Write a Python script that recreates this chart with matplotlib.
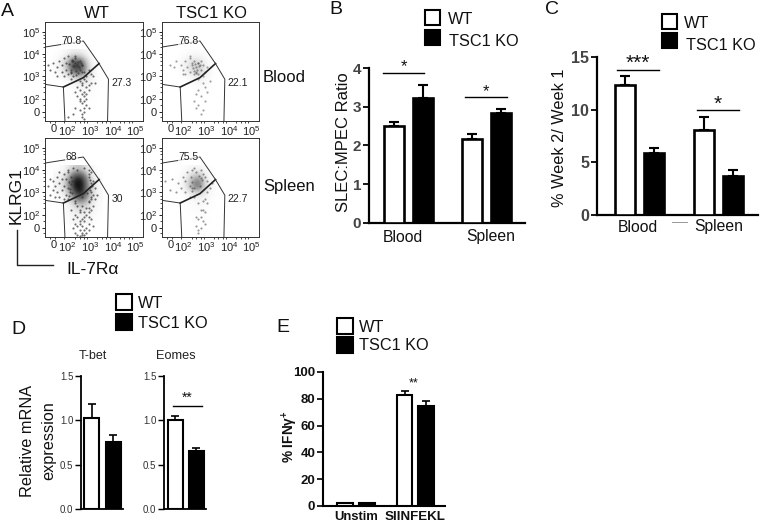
import matplotlib
matplotlib.use("Agg")
import matplotlib.pyplot as plt
from matplotlib.patches import Rectangle

plt.rcParams["font.family"] = ["Liberation Sans", "DejaVu Sans"]
plt.rcParams["mathtext.fontset"] = "custom"
plt.rcParams["mathtext.rm"] = "Liberation Sans"
plt.rcParams["mathtext.bf"] = "Liberation Sans:bold"
plt.rcParams["mathtext.default"] = "regular"

W, H = 760, 522

# bar values
b_labels = ["Blood", "Spleen"]
b_wt = [2.5, 2.17]
b_wt_err = [0.1, 0.13]
b_ko = [3.22, 2.83]
b_ko_err = [0.35, 0.12]

c_labels = ["Blood", "Spleen"]
c_wt = [12.3, 8.1]
c_wt_err = [0.9, 1.2]
c_ko = [5.9, 3.7]
c_ko_err = [0.5, 0.6]

tbet_vals = [1.03, 0.76]
tbet_err = [0.15, 0.08]
eomes_vals = [1.0, 0.65]
eomes_err = [0.05, 0.04]

e_labels = ["Unstim", "SIINFEKL"]
e_wt = [2, 83]
e_wt_err = [0.3, 3]
e_ko = [2, 75]
e_ko_err = [0.3, 3]

# flow gate percentages: upper, lower
pct_labels = [("70.8", "27.3"), ("76.8", "22.1"), ("68", "30"), ("75.5", "22.7")]

# gate outlines, in log10 units
upper_gate_x = [0.96, 2.67, 3.37]
upper_gate_y = [4.31, 4.58, 3.57]
split_x = [3.37, 2.67, 1.78]
split_y = [3.57, 2.94, 2.52]
left_x = [1.78, 0.96]
left_y = [2.52, 2.64]
lower_gate_x = [1.78, 1.85]
lower_gate_y = [2.52, 1.0]
right_gate_x = [3.37, 3.79, 3.75]
right_gate_y = [3.57, 2.87, 1.0]

# flow events, in log10 units, read by eye
blood_wt_x = [1.1, 1.2, 1.3, 1.4, 1.5, 1.5, 1.6, 1.7, 1.7, 1.8, 1.8, 1.9, 1.9, 2.0, 2.0, 2.1, 2.1, 2.2, 2.2, 2.3,
              2.6, 2.7, 2.8, 2.9, 3.0, 3.1, 2.5, 2.6, 2.7, 2.8, 2.9, 3.0, 2.4, 2.5, 2.6, 2.7, 2.8, 2.9, 2.6, 2.7,
              2.8, 2.5, 2.6, 2.7, 2.8, 2.3, 2.5, 2.7, 2.9, 2.6, 2.7, 2.2, 2.4, 2.6, 2.8, 2.5, 2.7, 2.0, 2.3, 3.2,
              2.05, 2.12, 2.18, 2.25, 2.3, 2.35, 2.42, 2.48, 2.55, 2.62, 2.1, 2.2, 2.28, 2.38, 2.45, 2.52, 2.6, 2.15,
              2.33, 2.5]
blood_wt_y = [3.5, 3.3, 3.6, 3.2, 3.4, 3.0, 3.7, 3.2, 3.5, 3.0, 3.8, 3.3, 3.6, 3.1, 3.9, 3.2, 2.9, 3.7, 3.0, 3.9,
              3.5, 3.2, 3.0, 3.3, 3.1, 3.0, 2.8, 2.7, 2.9, 2.8, 2.6, 2.7, 2.5, 2.4, 2.6, 2.3, 2.5, 2.4, 2.2, 2.1,
              2.0, 1.9, 1.8, 1.9, 1.7, 1.6, 1.5, 1.4, 1.6, 1.2, 1.6, 1.3, 2.1, 1.3, 2.2, 2.0, 1.1, 1.2, 2.3, 2.7,
              3.55, 3.3, 3.7, 3.45, 3.8, 3.25, 3.65, 3.4, 3.6, 3.2, 3.15, 3.45, 3.6, 3.5, 3.15, 3.3, 3.5, 3.75, 3.05,
              3.7]
blood_ko_x = [1.3, 1.5, 1.6, 1.8, 1.9, 2.0, 2.1, 2.2, 2.3, 2.4, 2.5, 2.6, 2.7, 2.8, 2.9, 3.0, 2.2, 2.4, 2.6, 2.8,
              2.3, 2.5, 2.7, 2.6, 2.8, 2.9, 3.0, 2.7, 2.5, 2.9, 2.6, 2.8, 3.1, 2.4, 2.7, 2.0, 2.2, 1.9, 2.5, 2.6,
              2.35, 2.45, 2.55, 2.62, 2.48, 2.58, 2.68, 2.4]
blood_ko_y = [3.5, 3.4, 3.7, 3.5, 3.3, 3.7, 3.4, 3.8, 3.5, 3.7, 3.4, 3.6, 3.3, 3.5, 3.2, 3.4, 3.2, 3.1, 3.1, 3.0,
              3.6, 3.2, 3.7, 2.9, 2.7, 2.5, 2.3, 2.1, 2.2, 1.9, 1.7, 1.5, 2.8, 1.9, 1.3, 3.1, 3.9, 3.1, 1.6, 2.4,
              3.35, 3.55, 3.3, 3.45, 3.15, 3.6, 3.5, 3.25]
spleen_wt_x = [1.1, 1.2, 1.3, 1.3, 1.4, 1.5, 1.5, 1.6, 1.6, 1.7, 1.7, 1.8, 1.8, 1.9, 1.9, 2.0, 2.0, 2.0, 1.2, 1.4,
               1.6, 1.8, 2.9, 3.0, 3.1, 3.2, 3.0, 3.1, 3.0, 2.9, 3.3, 3.2, 3.1, 2.9, 2.0, 2.2, 2.3, 2.4, 2.5, 2.6,
               2.7, 2.8, 2.9, 3.0, 2.1, 2.3, 2.5, 2.7, 2.9, 2.2, 2.4, 2.6, 2.8, 3.0, 2.3, 2.5, 2.7, 2.9, 2.4, 2.6,
               2.8, 2.5, 2.7, 2.3, 2.6, 2.9, 2.4, 2.7, 3.1, 2.2, 2.5, 2.8, 2.3, 2.6, 3.0, 2.4, 2.7, 2.9, 2.5, 2.6,
               2.02, 2.08, 2.12, 2.16, 2.95, 2.98, 3.02, 3.06, 2.05, 2.1, 2.85, 2.92, 2.15, 2.9, 2.96, 2.08]
spleen_wt_y = [3.3, 3.6, 3.1, 3.5, 3.3, 3.7, 3.0, 3.4, 2.8, 3.6, 3.1, 3.8, 3.3, 2.9, 3.6, 3.2, 3.9, 2.7, 2.9, 2.8,
               3.9, 2.7, 3.7, 3.4, 3.5, 3.2, 3.0, 2.9, 2.7, 2.6, 2.9, 2.7, 2.4, 2.3, 4.0, 4.1, 2.5, 2.4, 2.2, 2.4,
               2.1, 2.3, 2.1, 2.2, 2.2, 2.0, 2.1, 1.9, 1.9, 1.8, 1.9, 1.8, 2.0, 1.8, 1.6, 1.7, 1.7, 1.6, 1.5, 1.5,
               1.4, 1.3, 1.3, 1.2, 1.2, 1.3, 1.1, 1.1, 1.5, 1.4, 1.05, 1.2, 2.6, 2.8, 3.9, 4.0, 4.1, 4.0, 1.6, 1.1,
               3.45, 3.15, 3.7, 2.95, 3.1, 3.55, 2.8, 3.3, 2.85, 3.35, 2.95, 3.8, 3.5, 2.55, 3.25, 3.0]
spleen_ko_x = [1.1, 1.3, 1.4, 1.6, 1.7, 1.8, 1.9, 2.0, 2.0, 2.1, 2.2, 2.3, 2.4, 2.5, 2.7, 2.8, 2.9, 3.0, 3.1, 3.2,
               2.6, 2.8, 2.9, 3.0, 2.7, 2.9, 2.5, 2.6, 2.8, 2.5, 2.7, 2.6, 2.8, 2.7, 3.0, 2.4, 2.2, 2.3, 2.6, 2.9,
               2.25, 2.32, 2.38, 2.62, 2.68, 2.74, 2.3, 2.7]
spleen_ko_y = [3.5, 3.1, 3.6, 3.0, 3.4, 3.2, 3.7, 3.0, 3.5, 3.9, 3.3, 4.0, 4.1, 3.9, 4.0, 3.8, 3.7, 3.5, 3.2, 3.4,
               2.5, 2.6, 2.7, 2.5, 2.2, 2.1, 1.9, 1.8, 1.7, 1.5, 1.4, 1.3, 2.2, 1.9, 3.0, 2.8, 2.8, 3.2, 1.2, 1.6,
               3.7, 3.45, 3.2, 3.75, 3.3, 3.55, 3.05, 3.65]

# event density by eye, rows top to bottom, columns left to right
blood_wt_dens = [[0, 0.04, 0.12, 0.1, 0, 0],
                 [0.04, 0.3, 0.95, 0.75, 0.08, 0],
                 [0.03, 0.25, 0.9, 0.85, 0.15, 0],
                 [0, 0.02, 0.15, 0.3, 0.12, 0.01],
                 [0, 0, 0.03, 0.1, 0.05, 0],
                 [0, 0, 0.01, 0.05, 0.02, 0],
                 [0, 0, 0, 0.02, 0.01, 0]]
blood_ko_dens = [[0, 0, 0.02, 0.02, 0, 0],
                 [0, 0.06, 0.22, 0.28, 0.04, 0],
                 [0, 0.03, 0.22, 0.45, 0.1, 0],
                 [0, 0, 0.02, 0.12, 0.06, 0],
                 [0, 0, 0, 0.03, 0.02, 0],
                 [0, 0, 0, 0.01, 0, 0],
                 [0, 0, 0, 0, 0, 0]]
spleen_wt_dens = [[0, 0.08, 0.3, 0.35, 0.04, 0],
                  [0.08, 0.25, 0.95, 1.0, 0.25, 0.02],
                  [0.08, 0.3, 1.0, 1.05, 0.35, 0.03],
                  [0.03, 0.12, 0.75, 1.0, 0.35, 0.03],
                  [0, 0.04, 0.3, 0.5, 0.22, 0.03],
                  [0, 0.01, 0.12, 0.2, 0.1, 0.01],
                  [0, 0.01, 0.05, 0.1, 0.05, 0]]
spleen_ko_dens = [[0, 0.01, 0.06, 0.08, 0.02, 0],
                  [0, 0.04, 0.3, 0.6, 0.1, 0],
                  [0.01, 0.04, 0.45, 0.85, 0.18, 0],
                  [0, 0.01, 0.08, 0.18, 0.08, 0.01],
                  [0, 0, 0.02, 0.06, 0.04, 0],
                  [0, 0, 0.01, 0.03, 0.01, 0],
                  [0, 0, 0, 0.01, 0.01, 0]]


def make_ax(left, top, right, bottom):
    return fig.add_axes([left / W, 1 - bottom / H, (right - left) / W, (bottom - top) / H])


def flow_panel(box, xs, ys, dens, labels, dot_alpha):
    ax = make_ax(*box)
    ax.imshow(dens, extent=(1.3, 3.5, 1.6, 4.2), cmap="Greys", vmin=0, vmax=1.05, aspect="auto",
              interpolation="bicubic", zorder=1)
    ax.set_xlim(0.96, 5.33)
    ax.set_ylim(1.0, 5.43)
    ax.scatter(xs, ys, s=2.4, c="#333333", alpha=dot_alpha, linewidths=0, zorder=2)
    ax.plot(upper_gate_x, upper_gate_y, color="#333333", lw=0.7, zorder=3)
    ax.plot(split_x, split_y, color="#222222", lw=1.2, zorder=3)
    ax.plot(left_x, left_y, color="#333333", lw=0.7, zorder=3)
    ax.plot(lower_gate_x, lower_gate_y, color="#333333", lw=0.7, zorder=3)
    ax.plot(right_gate_x, right_gate_y, color="#333333", lw=0.7, zorder=3)
    ax.set_xticks([1.33, 1.93, 2.97, 4.0, 4.97])
    ax.set_xticklabels(["0", "$10^2$", "$10^3$", "$10^4$", "$10^5$"], fontsize=8, color="#222222")
    ax.set_yticks([1.4, 2, 3, 4, 5])
    ax.set_yticklabels(["0", "$10^2$", "$10^3$", "$10^4$", "$10^5$"], fontsize=8, color="#222222")
    ax.set_xticks([1.2, 1.4, 1.8, 2.3, 2.5, 2.7, 2.85, 3.3, 3.5, 3.7, 3.85, 4.3, 4.5, 4.7, 4.85], minor=True)
    ax.set_yticks([1.2, 1.7, 2.3, 2.5, 2.7, 2.85, 3.3, 3.5, 3.7, 3.85, 4.3, 4.5, 4.7, 4.85], minor=True)
    ax.tick_params(which="major", length=2, width=0.6, pad=1.5)
    ax.tick_params(which="minor", length=1.2, width=0.5)
    ax.tick_params(axis="x", which="major", pad=2.5, length=0)
    for s in ax.spines.values():
        s.set_linewidth(0.7)
        s.set_color("#333333")
    ax.text(2.15, 4.6, labels[0], fontsize=7.5, ha="center", va="center", color="#222222", zorder=4,
            bbox=dict(fc="white", ec="none", pad=0.3, alpha=0.7))
    ax.text(3.92, 2.72, labels[1], fontsize=7.5, ha="left", va="center", color="#222222", zorder=4)


def bar_panel(box, centers, width, vals, errs, ymax, yticks, fills, tick_fs, tick_fmt, tick_color="#444444",
              tick_weight="bold", lw=1.9, spine_lw=1.6):
    ax = make_ax(*box)
    ax.set_xlim(box[0], box[2])
    ax.set_ylim(0, ymax)
    ax.bar(centers, vals, width=width, color=fills, edgecolor="black", linewidth=lw, zorder=3)
    ax.errorbar(centers, vals, yerr=[[0] * len(vals), errs], fmt="none", ecolor="black",
                elinewidth=lw * 0.8, capsize=width * 0.17, capthick=lw * 0.8, zorder=2)
    ax.set_yticks(yticks)
    ax.set_yticklabels([tick_fmt % t for t in yticks], fontsize=tick_fs, color=tick_color, fontweight=tick_weight)
    ax.set_xticks([])
    ax.tick_params(axis="y", length=4, width=spine_lw * 0.8, pad=1.5)
    ax.spines["top"].set_visible(False)
    ax.spines["right"].set_visible(False)
    ax.spines["left"].set_linewidth(spine_lw)
    ax.spines["bottom"].set_linewidth(spine_lw)
    return ax


def legend(x, y1, y2, size, tx1, tx2, ty1, ty2, fs=11.7):
    over.add_patch(Rectangle((x, y1), size, size, fc="white", ec="black", lw=1.5))
    over.add_patch(Rectangle((x, y2), size, size, fc="black", ec="black", lw=1.5))
    over.text(tx1, ty1, "WT", fontsize=fs, va="center", ha="left", color="#111111")
    over.text(tx2, ty2, "TSC1 KO", fontsize=fs, va="center", ha="left", color="#111111")


def sig(x1, x2, y, stars, ystar, fs=12):
    over.plot([x1, x2], [y, y], color="black", lw=1.0)
    over.text((x1 + x2) / 2, ystar, stars, fontsize=fs, ha="center", va="center", color="#111111")


fig = plt.figure(figsize=(W / 100, H / 100), dpi=100)
over = fig.add_axes([0, 0, 1, 1], zorder=10)
over.set_xlim(0, W)
over.set_ylim(H, 0)
over.axis("off")

# A
flow_panel((45, 22, 143, 121), blood_wt_x, blood_wt_y, blood_wt_dens, pct_labels[0], 0.7)
flow_panel((162, 22, 259, 121), blood_ko_x, blood_ko_y, blood_ko_dens, pct_labels[1], 0.45)
flow_panel((45, 138, 143, 237), spleen_wt_x, spleen_wt_y, spleen_wt_dens, pct_labels[2], 0.7)
flow_panel((162, 138, 259, 237), spleen_ko_x, spleen_ko_y, spleen_ko_dens, pct_labels[3], 0.5)

over.text(1, 11, "A", fontsize=14, va="center", color="#111111")
over.text(97, 13, "WT", fontsize=12, ha="center", va="center", color="#111111")
over.text(211, 13, "TSC1 KO", fontsize=12, ha="center", va="center", color="#111111")
over.text(263, 77, "Blood", fontsize=12, va="center", color="#111111")
over.text(263, 187, "Spleen", fontsize=12, va="center", color="#111111")
over.text(16, 196, "KLRG1", fontsize=12.5, rotation=90, ha="center", va="center", color="#111111")
over.text(93, 269, "IL-7R\u03b1", fontsize=12.5, ha="center", va="center", color="#111111")
over.plot([17, 17, 53], [230, 265, 265], color="#222222", lw=1.0)

# B
bar_panel((369, 68, 525, 222.7), [394, 423, 472, 500.5], 20,
          [b_wt[0], b_ko[0], b_wt[1], b_ko[1]], [b_wt_err[0], b_ko_err[0], b_wt_err[1], b_ko_err[1]],
          4, [0, 1, 2, 3, 4], ["white", "black", "white", "black"], 11, "%d")
over.text(329, 9, "B", fontsize=14, va="center", color="#111111")
over.text(344, 142, "SLEC:MPEC Ratio", fontsize=12, rotation=90, ha="center", va="center", color="#111111")
over.text(403, 237, b_labels[0], fontsize=11.3, ha="center", va="center", color="#111111")
over.text(491, 237, b_labels[1], fontsize=11.3, ha="center", va="center", color="#111111")
legend(425, 10, 30, 15, 448, 449, 19, 41)
sig(383, 424, 73, "*", 67)
sig(465, 507, 97, "*", 92)

# C
bar_panel((597, 57, 758, 215), [624.5, 653.5, 703.5, 732.5], 20,
          [c_wt[0], c_ko[0], c_wt[1], c_ko[1]], [c_wt_err[0], c_ko_err[0], c_wt_err[1], c_ko_err[1]],
          15, [0, 5, 10, 15], ["white", "black", "white", "black"], 11.5, "%d")
over.text(545, 10, "C", fontsize=14, va="center", color="#111111")
over.text(560, 138, "% Week 2/ Week 1", fontsize=11.7, rotation=90, ha="center", va="center", color="#111111")
over.text(638, 227, c_labels[0], fontsize=11.3, ha="center", va="center", color="#111111")
over.text(719, 227, c_labels[1], fontsize=11.3, ha="center", va="center", color="#111111")
over.plot([672, 687], [222, 222], color="#999999", lw=0.7)
legend(662, 14, 33, 15, 684, 686, 23, 45)
sig(617, 659, 69.5, "***", 63, fs=15)
sig(697, 739, 110, "*", 104, fs=15)

# D
bar_panel((81, 376, 123, 509), [91.5, 113], 15, tbet_vals, tbet_err, 1.5, [0, 0.5, 1.0, 1.5],
          ["white", "black"], 7, "%.1f", tick_color="#333333", tick_weight="normal", lw=1.5, spine_lw=1.3)
bar_panel((164, 376, 206, 509), [175, 196], 15, eomes_vals, eomes_err, 1.5, [0, 0.5, 1.0, 1.5],
          ["white", "black"], 7, "%.1f", tick_color="#333333", tick_weight="normal", lw=1.5, spine_lw=1.3)
over.text(11, 330, "D", fontsize=14, va="center", color="#111111")
over.text(93, 356, "T-bet", fontsize=9, ha="center", va="center", color="#222222")
over.text(176, 356, "Eomes", fontsize=9.2, ha="center", va="center", color="#222222")
over.text(28, 441, "Relative mRNA", fontsize=11.7, rotation=90, ha="center", va="center", color="#111111")
over.text(49, 441, "expression", fontsize=11.7, rotation=90, ha="center", va="center", color="#111111")
legend(116, 294, 314, 15.5, 138, 138, 303, 323)
sig(173, 202, 406, "**", 398, fs=10)

# E
bar_panel((323, 372, 445, 506), [345, 367, 404.5, 426], 15.5,
          [e_wt[0], e_ko[0], e_wt[1], e_ko[1]], [e_wt_err[0], e_ko_err[0], e_wt_err[1], e_ko_err[1]],
          100, [0, 20, 40, 60, 80, 100], ["white", "black", "white", "black"], 9.5, "%d",
          tick_color="#111111", tick_weight="bold", lw=1.5, spine_lw=1.5)
over.text(276, 328, "E", fontsize=14, va="center", color="#111111")
over.text(290, 437, "% IFN$\\gamma^{+}$", fontsize=9.8, fontweight="bold", rotation=90, ha="center", va="center",
          color="#111111")
over.text(356, 517, e_labels[0], fontsize=9.4, fontweight="bold", ha="center", va="center", color="#111111")
over.text(415, 517, e_labels[1], fontsize=9.6, fontweight="bold", ha="center", va="center", color="#111111")
over.text(414, 383, "**", fontsize=9, ha="center", va="center", color="#111111")
legend(337, 318, 337, 15.5, 359, 359, 327, 346)

fig.savefig("out.png", dpi=100)
